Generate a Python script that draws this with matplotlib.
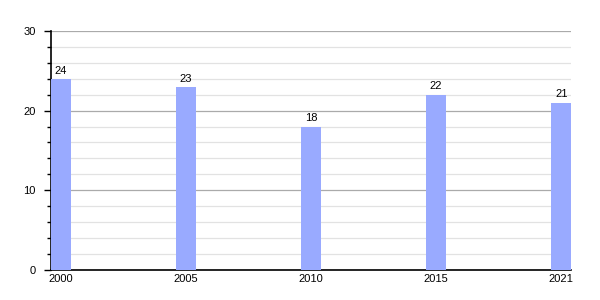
import matplotlib.pyplot as plt
from matplotlib.ticker import MultipleLocator

years = ['2000', '2005', '2010', '2015', '2021']
values = [24, 23, 18, 22, 21]

plt.rcParams['font.family'] = ['Liberation Sans', 'DejaVu Sans']

fig = plt.figure(figsize=(6, 3), dpi=100)
ax = fig.add_axes([0.085, 0.1, 0.867, 0.797])

w = 0.16
x = range(len(years))
ax.bar(x, values, width=w, color='#99aaff', zorder=3)
for i, v in zip(x, values):
    ax.text(i, v + 0.4, str(v), ha='center', va='bottom', fontsize=8, zorder=4)

ax.set_xlim(-w / 2, len(years) - 1 + w / 2)
ax.set_ylim(0, 30)
ax.set_xticks(list(x))
ax.set_xticklabels(years)
ax.yaxis.set_major_locator(MultipleLocator(10))
ax.yaxis.set_minor_locator(MultipleLocator(2))

ax.grid(axis='y', which='major', color='#aaaaaa', linewidth=0.9, zorder=0)
ax.grid(axis='y', which='minor', color='#e2e2e2', linewidth=0.9, zorder=0)

for s in ['top', 'right']:
    ax.spines[s].set_visible(False)
ax.spines['left'].set_linewidth(1.2)
ax.spines['bottom'].set_linewidth(1.2)

ax.tick_params(axis='x', length=0, pad=3, labelsize=8)
ax.tick_params(axis='y', which='major', length=5, width=1, pad=6, labelsize=8)
ax.tick_params(axis='y', which='minor', length=3, width=1)

fig.savefig('out.png', dpi=100)
